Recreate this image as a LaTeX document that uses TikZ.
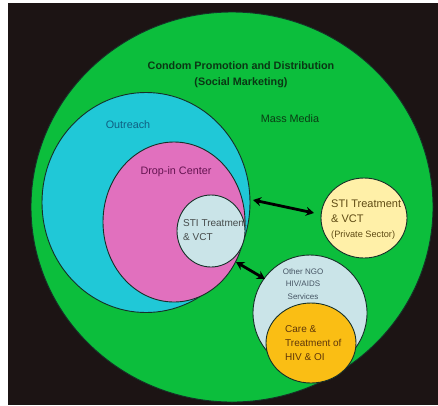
\documentclass[tikz,border=0pt]{standalone}
\usepackage{fontspec}
\setmainfont{Liberation Sans}
\usetikzlibrary{positioning,arrows.meta,shapes.geometric}

\definecolor{bgblack}{RGB}{28,20,20}
\definecolor{zgreen}{RGB}{12,190,60}
\definecolor{zcyan}{RGB}{32,200,215}
\definecolor{zpink}{RGB}{225,112,190}
\definecolor{zpale}{RGB}{202,228,232}
\definecolor{zcream}{RGB}{255,240,168}
\definecolor{zorange}{RGB}{250,190,20}
\definecolor{zline}{RGB}{22,48,40}

\begin{document}
\begin{tikzpicture}[
  x=1pt, y=-1pt,
  zone/.style = {ellipse, draw=zline, line width=0.9pt, inner sep=0pt},
  lab/.style  = {inner sep=0pt, font=\fontsize{10}{14}\selectfont},
  dbl/.style  = {{Stealth[length=8pt,width=9pt]}-{Stealth[length=8pt,width=9pt]}, line width=2.8pt, black}
]
\useasboundingbox (0,0) rectangle (438,405);
\fill[bgblack] (8,3) rectangle (438,405);

% ================= nested zones =================
\node[zone, fill=zgreen, minimum width=402pt, minimum height=390pt] (cpd)  at (232,207) {};
\node[zone, fill=zcyan,  minimum width=208pt, minimum height=220pt] (out)  at (146,202.5) {};
\node[zone, fill=zpink,  minimum width=142pt, minimum height=160pt] (drop) at (174,222) {};
\node[zone, fill=zpale,  minimum width=68pt,  minimum height=72pt]  (sti)  at (211,231) {};

% ================= outside partners =================
\node[zone, fill=zcream,  minimum width=86pt,  minimum height=80pt]  (priv) at (364,218) {};
\node[zone, fill=zpale,   minimum width=114pt, minimum height=116pt] (ngo)  at (310,313) {};
\node[zone, fill=zorange, minimum width=90pt,  minimum height=80pt]  (care) at (311,343) {};

% ================= links =================
\coordinate (l1a) at (253,200);
\coordinate (l1b) at (314,213);
\coordinate (l2a) at (236,262);
\coordinate (l2b) at (265,279);
\draw[dbl] (l1a) -- (l1b);
\draw[dbl] (l2a) -- (l2b);

% ================= labels =================
\node[lab, align=center, text={rgb,255:red,10;green,55;blue,20},
      font=\fontsize{10.8}{16}\selectfont\bfseries] (tcpd) at (241,75)
  {Condom Promotion and Distribution\\(Social Marketing)};
\node[lab, text={rgb,255:red,10;green,60;blue,20}, font=\fontsize{10.8}{14}\selectfont] (tmm) at (290,119) {Mass Media};
\node[lab, text={rgb,255:red,15;green,95;blue,130}, font=\fontsize{10.8}{14}\selectfont] (tout) at (128,125) {Outreach};
\node[lab, text={rgb,255:red,100;green,20;blue,80}, font=\fontsize{10.8}{14}\selectfont] (tdrop) at (176,172) {Drop-in Center};
\node[lab, align=left, anchor=west, text={rgb,255:red,70;green,75;blue,75}] (tsti) at (183,230)
  {STI Treatment\\\& VCT};
\node[lab, align=left, anchor=west, text={rgb,255:red,95;green,75;blue,20},
      font=\fontsize{11}{15}\selectfont] (tpriv) at (331,220)
  {STI Treatment\\\& VCT\\{\fontsize{9.2}{15}\selectfont(Private Sector)}};
\node[lab, align=center, text={rgb,255:red,70;green,85;blue,100},
      font=\fontsize{8}{12.5}\selectfont] (tngo) at (303,284)
  {Other NGO\\HIV/AIDS\\Services};
\node[lab, align=left, anchor=west, text={rgb,255:red,95;green,55;blue,10}] (tcare) at (285,343)
  {Care \&\\Treatment of\\HIV \& OI};
\end{tikzpicture}
\end{document}
